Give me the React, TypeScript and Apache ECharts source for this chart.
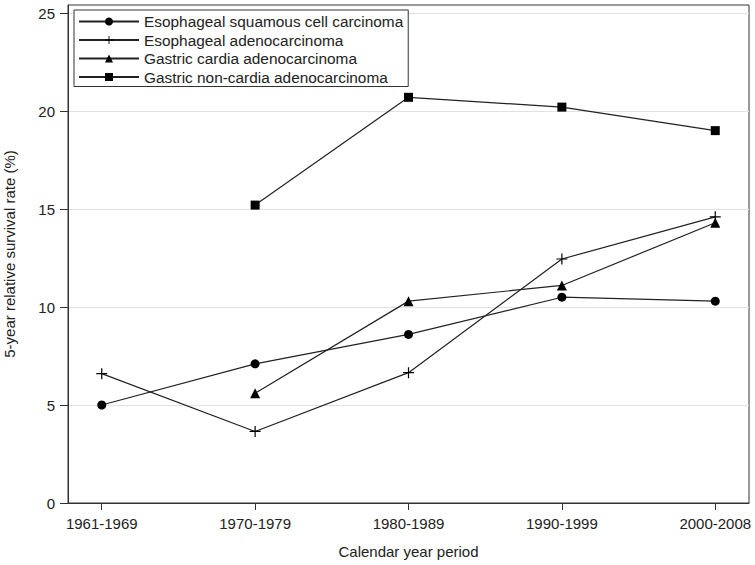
import React, { useEffect, useRef } from "react";
import * as echarts from "echarts";

const categories = ["1961-1969", "1970-1979", "1980-1989", "1990-1999", "2000-2008"];
const seriesNames = [
  "Esophageal squamous cell carcinoma",
  "Esophageal adenocarcinoma",
  "Gastric cardia adenocarcinoma",
  "Gastric non-cardia adenocarcinoma",
];
const escc: (number | null)[] = [5.0, 7.1, 8.6, 10.5, 10.3];
const eac: (number | null)[] = [6.6, 3.65, 6.65, 12.45, 14.6];
const gca: (number | null)[] = [null, 5.6, 10.3, 11.1, 14.3];
const gnca: (number | null)[] = [null, 15.2, 20.7, 20.2, 19.0];
const yTicks = [0, 5, 10, 15, 20, 25];

const PLUS = "path://M4.45,0h1.1v4.45h4.45v1.1h-4.45v4.45h-1.1v-4.45h-4.45v-1.1h4.45z";
const FONT = "'Liberation Sans', Arial, sans-serif";
const INK = "#222";

function toPoints(vals: (number | null)[]) {
  const out: [number, number][] = [];
  vals.forEach((v, i) => {
    if (v !== null) out.push([i + 1, v]);
  });
  return out;
}

export default function App() {
  const ref = useRef<HTMLDivElement>(null);
  useEffect(() => {
    if (!ref.current) return;
    const chart = echarts.init(ref.current, undefined, { renderer: "svg" });
    const mk = (name: string, vals: (number | null)[], symbol: string, size: number) => ({
      name,
      type: "line",
      data: toPoints(vals),
      symbol,
      symbolSize: size,
      showSymbol: true,
      lineStyle: { color: INK, width: 1.2 },
      itemStyle: { color: "#000", borderWidth: 0 },
      emphasis: { disabled: true },
    });
    chart.setOption({
      animation: false,
      backgroundColor: "#fff",
      textStyle: { fontFamily: FONT },
      grid: {
        left: 68,
        right: 6,
        top: 5,
        bottom: 62,
        show: true,
        borderColor: "#333",
        borderWidth: 1,
        backgroundColor: "#fff",
        containLabel: false,
        outerBoundsMode: "none",
      },
      legend: {
        orient: "vertical",
        left: 74,
        top: 10,
        borderColor: "#333",
        borderWidth: 1,
        padding: [4, 5, 2, 4],
        itemGap: 3.5,
        itemWidth: 60,
        itemHeight: 10,
        backgroundColor: "#fff",
        textStyle: { fontSize: 15.4, color: INK, fontFamily: FONT },
        data: seriesNames,
      },
      xAxis: {
        type: "value",
        min: 0.78,
        max: 5.22,
        name: "Calendar year period",
        nameLocation: "middle",
        nameGap: 41,
        nameTextStyle: { fontSize: 15, color: INK, fontFamily: FONT },
        axisLine: { show: true, lineStyle: { color: "#333", width: 1 } },
        axisTick: { show: true, length: 7, customValues: [1, 2, 3, 4, 5], lineStyle: { color: "#333" } },
        axisLabel: {
          customValues: [1, 2, 3, 4, 5],
          margin: 13,
          fontSize: 15,
          color: INK,
          fontFamily: FONT,
          formatter: (v: number) => categories[Math.round(v) - 1] ?? "",
        },
        splitLine: { show: false },
      },
      yAxis: {
        type: "value",
        min: 0,
        max: 25.41,
        interval: 5,
        name: "5-year relative survival rate (%)",
        nameLocation: "middle",
        nameGap: 51,
        nameTextStyle: { fontSize: 15, color: INK, fontFamily: FONT },
        axisLine: { show: true, lineStyle: { color: "#333", width: 1 } },
        axisTick: { show: true, length: 8, customValues: yTicks, lineStyle: { color: "#333" } },
        axisLabel: {
          customValues: yTicks,
          margin: 13,
          fontSize: 15,
          color: INK,
          fontFamily: FONT,
        },
        splitLine: { show: true, lineStyle: { color: "#e2e2e2", width: 1 } },
      },
      series: [
        mk(seriesNames[0], escc, "circle", 9),
        mk(seriesNames[1], eac, PLUS, 11),
        mk(seriesNames[2], gca, "triangle", 10),
        mk(seriesNames[3], gnca, "rect", 9),
      ],
    });
    return () => chart.dispose();
  }, []);
  return <div ref={ref} style={{ width: 755, height: 565, position: "absolute", left: 0, top: 0 }} />;
}
